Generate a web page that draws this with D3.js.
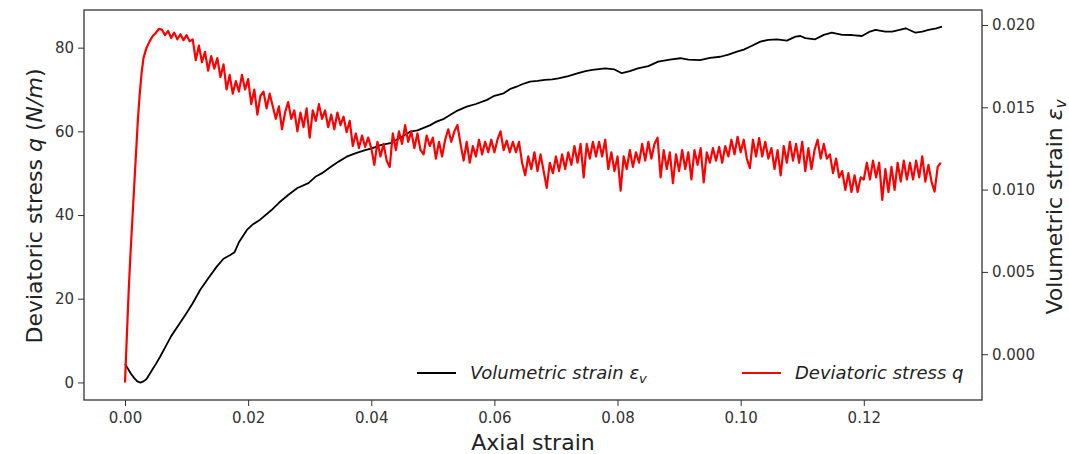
<!DOCTYPE html>
<html>
<head>
<meta charset="utf-8">
<script src="https://cdn.jsdelivr.net/npm/d3@7"></script>
<style>
  html, body { margin: 0; padding: 0; background: #fff; }
  svg { display: block; font-family: "DejaVu Sans", sans-serif; }
</style>
</head>
<body>
<svg id="chart" width="1069" height="454"></svg>
<script>
// Deviatoric stress q (N/m) against axial strain — [strain, q]
const stressCurve = [
  [0,0],[0.0003,11],[0.0006,22],[0.0009,31],[0.0012,39],[0.0015,47],[0.0018,55],[0.0021,63],
  [0.0024,69],[0.0027,74],[0.003,77.5],[0.0035,80],[0.004,81.5],[0.0045,82.8],[0.005,83.5],[0.0055,84.5],
  [0.006,84.3],[0.0065,83.0],[0.007,84.0],[0.0075,82.3],[0.008,83.6],[0.0085,82.0],[0.009,83.2],[0.0095,81.8],
  [0.010,83.0],[0.0105,81.5],[0.011,82.0],[0.0115,77.0],[0.012,80.5],[0.0125,76.5],[0.013,79.0],[0.0135,74.5],
  [0.014,78.0],[0.0145,75.0],[0.015,77.5],[0.0155,73.0],[0.016,76.0],[0.0165,70.0],[0.017,73.5],[0.0175,69.0],
  [0.018,72.0],[0.0185,69.5],[0.019,73.5],[0.0195,70.0],[0.020,72.5],[0.0205,66.5],[0.021,70.0],[0.0215,64.0],
  [0.022,68.5],[0.0225,69.5],[0.023,65.5],[0.0235,69.0],[0.024,66.0],[0.0245,63.0],[0.025,66.0],[0.0255,60.5],
  [0.026,64.5],[0.0265,67.0],[0.027,63.0],[0.0275,65.0],[0.028,60.0],[0.0285,64.5],[0.029,61.0],[0.0295,65.5],
  [0.030,58.5],[0.0305,65.0],[0.031,62.5],[0.0315,66.5],[0.032,63.0],[0.0325,65.0],[0.033,61.0],[0.0335,64.0],
  [0.034,60.5],[0.0345,64.5],[0.035,61.5],[0.0355,63.5],[0.036,59.8],[0.0365,62.5],[0.037,56.5],[0.0375,59.5],
  [0.038,56.0],[0.0385,59.0],[0.039,56.3],[0.0395,58.5],[0.040,56.0],[0.0405,52.0],[0.041,57.5],[0.0415,54.0],
  [0.042,57.0],[0.0425,53.0],[0.043,51.5],[0.0435,59.5],[0.044,55.5],[0.0445,60.0],[0.045,57.0],[0.0455,61.5],
  [0.046,57.5],[0.0465,60.0],[0.047,56.0],[0.0475,59.5],[0.048,55.5],[0.0485,54.5],[0.049,59.0],[0.0495,56.5],
  [0.050,58.5],[0.0505,53.5],[0.051,57.5],[0.0515,54.0],[0.052,58.0],[0.0525,60.5],[0.053,57.5],[0.0535,60.0],
  [0.054,61.5],[0.0545,57.0],[0.055,53.0],[0.0555,57.5],[0.056,52.5],[0.0565,56.5],[0.057,54.0],[0.0575,58.0],
  [0.058,54.5],[0.0585,57.5],[0.059,55.0],[0.0595,58.0],[0.060,55.0],[0.0605,58.0],[0.061,60.0],[0.0615,55.5],
  [0.062,57.8],[0.0625,55.0],[0.063,57.5],[0.0635,55.0],[0.064,57.5],[0.0645,52.5],[0.065,49.5],[0.0655,54.0],
  [0.066,51.0],[0.0665,55.0],[0.067,50.5],[0.0675,54.5],[0.068,50.5],[0.0685,46.5],[0.069,52.5],[0.0695,50.0],
  [0.070,54.0],[0.0705,50.5],[0.071,54.5],[0.0715,51.0],[0.072,55.0],[0.0725,52.0],[0.073,56.5],[0.0735,52.5],
  [0.074,57.0],[0.0745,49.0],[0.075,57.0],[0.0755,53.5],[0.076,57.5],[0.0765,54.0],[0.077,57.5],[0.0775,54.0],
  [0.078,58.0],[0.0785,51.0],[0.079,55.0],[0.0795,50.5],[0.080,54.0],[0.0805,45.8],[0.081,54.0],[0.0815,51.0],
  [0.082,55.5],[0.0825,51.5],[0.083,55.0],[0.0835,52.5],[0.084,57.0],[0.0845,53.0],[0.085,57.5],[0.0855,53.5],
  [0.086,57.0],[0.0865,58.5],[0.087,49.0],[0.0875,55.5],[0.088,51.0],[0.0885,55.0],[0.089,47.6],[0.0895,54.5],
  [0.090,50.5],[0.0905,55.5],[0.091,51.0],[0.0915,55.0],[0.092,48.5],[0.0925,55.5],[0.093,52.0],[0.0935,56.0],
  [0.094,47.8],[0.0945,55.0],[0.095,52.5],[0.0955,56.0],[0.096,53.0],[0.0965,56.3],[0.097,52.5],[0.0975,56.5],
  [0.098,54.0],[0.0985,58.0],[0.099,54.5],[0.0995,58.7],[0.100,55.0],[0.1005,58.0],[0.101,53.5],[0.1015,51.2],
  [0.102,58.0],[0.1025,54.0],[0.103,58.4],[0.1035,54.0],[0.104,57.5],[0.1045,53.5],[0.105,56.0],[0.1055,51.0],
  [0.106,55.5],[0.1065,49.5],[0.107,56.5],[0.1075,52.5],[0.108,57.5],[0.1085,53.0],[0.109,57.0],[0.1095,52.5],
  [0.110,57.5],[0.1105,50.5],[0.111,56.0],[0.1115,51.0],[0.112,55.5],[0.1125,58.0],[0.113,53.5],[0.1135,57.0],
  [0.114,53.5],[0.1145,54.5],[0.115,50.0],[0.1155,53.5],[0.116,49.0],[0.1165,50.5],[0.117,46.0],[0.1175,50.0],
  [0.118,45.5],[0.1185,49.5],[0.119,45.5],[0.1195,49.0],[0.120,48.5],[0.1205,52.5],[0.121,48.5],[0.1215,53.0],
  [0.122,49.0],[0.1225,52.5],[0.123,43.6],[0.1235,51.0],[0.124,45.5],[0.1245,51.5],[0.125,46.0],[0.1255,52.5],
  [0.126,48.0],[0.1265,53.0],[0.127,48.5],[0.1275,52.5],[0.128,48.5],[0.1285,53.0],[0.129,49.0],[0.1295,54.0],
  [0.130,48.0],[0.1305,52.0],[0.131,48.0],[0.1315,45.6],[0.132,51.5],[0.1325,52.5]
];

// Volumetric strain εv against axial strain — [strain, εv]
const volumetricCurve = [
  [0,-0.00059],[0.0005,-0.0009],[0.001,-0.0012],[0.0015,-0.00145],[0.002,-0.00165],[0.0025,-0.00172],
  [0.003,-0.00165],[0.0035,-0.0015],[0.004,-0.0012],[0.0045,-0.0009],[0.005,-0.0006],[0.0057,-0.00015],
  [0.0065,0.0004],[0.0075,0.0011],[0.0089,0.00188],[0.010,0.0025],[0.011,0.0031],[0.0122,0.0039],
  [0.0135,0.0046],[0.0149,0.00532],[0.016,0.0058],[0.0171,0.00603],[0.0178,0.0062],[0.0185,0.0068],
  [0.0198,0.00755],[0.0208,0.0079],[0.0219,0.00816],[0.0238,0.00876],[0.025,0.0092],[0.0265,0.00967],
  [0.028,0.0101],[0.0298,0.01039],[0.031,0.0108],[0.032,0.0110],[0.0335,0.0114],[0.0347,0.0117],
  [0.036,0.0120],[0.0374,0.0122],[0.039,0.0124],[0.0401,0.01251],[0.0415,0.0127],[0.0431,0.01282],
  [0.0445,0.0131],[0.0463,0.01352],[0.0475,0.0136],[0.0484,0.01373],[0.0495,0.0139],[0.0506,0.01413],
  [0.0518,0.0143],[0.0528,0.01453],[0.054,0.0148],[0.0555,0.01504],[0.057,0.0152],[0.0588,0.01545],
  [0.060,0.0157],[0.0615,0.01585],[0.0625,0.0161],[0.0636,0.01625],[0.0645,0.0164],[0.0658,0.01656],
  [0.067,0.0166],[0.0682,0.01666],[0.0694,0.0167],[0.0704,0.01676],[0.072,0.0169],[0.0736,0.01707],
  [0.0748,0.0172],[0.0759,0.01727],[0.078,0.01737],[0.0795,0.0173],[0.0807,0.01707],[0.082,0.0172],
  [0.0833,0.01737],[0.085,0.0175],[0.0866,0.01777],[0.0885,0.0179],[0.0902,0.01798],[0.0915,0.0179],
  [0.0934,0.01787],[0.095,0.018],[0.0967,0.01807],[0.098,0.0182],[0.0994,0.01838],[0.1005,0.0185],
  [0.1015,0.01868],[0.1032,0.01899],[0.1045,0.0191],[0.1059,0.01913],[0.1075,0.01905],[0.1089,0.01929],
  [0.1097,0.01933],[0.1105,0.0192],[0.1121,0.01913],[0.1135,0.0194],[0.1148,0.01953],[0.1165,0.0194],
  [0.1181,0.01939],[0.1197,0.01933],[0.121,0.0196],[0.1219,0.0197],[0.1235,0.0196],[0.1246,0.0196],
  [0.1258,0.0197],[0.1268,0.0198],[0.1284,0.01953],[0.1295,0.0196],[0.1305,0.0197],[0.1318,0.0198],
  [0.1327,0.0199]
];

const xTicks = [0, 0.02, 0.04, 0.06, 0.08, 0.10, 0.12];
const stressTicks = [0, 20, 40, 60, 80];
const volTicks = [0, 0.005, 0.010, 0.015, 0.020];

const svg = d3.select("#chart");
const plot = { left: 84, right: 982, top: 10, bottom: 400 };

const x = d3.scaleLinear().domain([-0.00666, 0.1392]).range([plot.left, plot.right]);
const yStress = d3.scaleLinear().domain([-4.2, 89]).range([plot.bottom, plot.top]);
const yVol = d3.scaleLinear().domain([-0.00278, 0.02091]).range([plot.bottom, plot.top]);

svg.append("defs").append("clipPath").attr("id", "plotClip")
  .append("rect").attr("x", plot.left).attr("y", plot.top)
  .attr("width", plot.right - plot.left).attr("height", plot.bottom - plot.top);

const g = svg.append("g").attr("clip-path", "url(#plotClip)");

g.append("path").datum(volumetricCurve)
  .attr("fill", "none").attr("stroke", "#000").attr("stroke-width", 1.8)
  .attr("stroke-linejoin", "round")
  .attr("d", d3.line().x(d => x(d[0])).y(d => yVol(d[1])));

g.append("path").datum(stressCurve)
  .attr("fill", "none").attr("stroke", "#ff0000").attr("stroke-width", 2.2)
  .attr("stroke-linejoin", "round")
  .attr("d", d3.line().x(d => x(d[0])).y(d => yStress(d[1])));

// Axes
const tickColor = "#333";
function styleAxis(sel) {
  sel.select(".domain").remove();
  sel.selectAll(".tick line").attr("stroke", tickColor).attr("stroke-width", 1);
  sel.selectAll(".tick text").attr("fill", "#333").style("font-size", "15px")
     .style("font-family", "'DejaVu Sans', sans-serif");
}

svg.append("g").attr("transform", `translate(0,${plot.bottom})`)
  .call(d3.axisBottom(x).tickValues(xTicks).tickFormat(d3.format(".2f")).tickSize(6).tickPadding(6))
  .call(styleAxis);

svg.append("g").attr("transform", `translate(${plot.left},0)`)
  .call(d3.axisLeft(yStress).tickValues(stressTicks).tickFormat(d3.format("d")).tickSize(6).tickPadding(4))
  .call(styleAxis);

svg.append("g").attr("transform", `translate(${plot.right},0)`)
  .call(d3.axisRight(yVol).tickValues(volTicks).tickFormat(d3.format(".3f")).tickSize(6).tickPadding(4))
  .call(styleAxis);

// Frame
svg.append("rect").attr("x", plot.left).attr("y", plot.top)
  .attr("width", plot.right - plot.left).attr("height", plot.bottom - plot.top)
  .attr("fill", "none").attr("stroke", "#333").attr("stroke-width", 1.3);

// Axis titles
svg.append("text").attr("x", (plot.left + plot.right) / 2).attr("y", 450)
  .attr("text-anchor", "middle").attr("fill", "#222").style("font-size", "22px")
  .text("Axial strain");

const lt = svg.append("text").attr("transform", "translate(42,206) rotate(-90)")
  .attr("text-anchor", "middle").attr("fill", "#222").style("font-size", "22px");
lt.append("tspan").text("Deviatoric stress ");
lt.append("tspan").attr("font-style", "italic").text("q");
lt.append("tspan").text(" (");
lt.append("tspan").attr("font-style", "italic").text("N/m");
lt.append("tspan").text(")");

const rt = svg.append("text").attr("transform", "translate(1062,207) rotate(-90)")
  .attr("text-anchor", "middle").attr("fill", "#222").style("font-size", "22px");
rt.append("tspan").text("Volumetric strain ");
rt.append("tspan").attr("font-style", "italic").text("ε");
rt.append("tspan").attr("font-style", "italic").attr("dy", 4).style("font-size", "15px").text("v");

// Legend
const legend = [
  { label: "Volumetric strain ", sym: "ε", sub: "v", color: "#000", x0: 417 },
  { label: "Deviatoric stress ", sym: "q", sub: null, color: "#ff0000", x0: 742 }
];
const ly = 373;
legend.forEach(item => {
  svg.append("line").attr("x1", item.x0).attr("x2", item.x0 + 39)
    .attr("y1", ly).attr("y2", ly).attr("stroke", item.color).attr("stroke-width", 1.8);
  const t = svg.append("text").attr("x", item.x0 + 53).attr("y", ly + 6)
    .attr("fill", "#222").style("font-size", "18px").attr("font-style", "italic");
  t.append("tspan").text(item.label);
  t.append("tspan").text(item.sym);
  if (item.sub) t.append("tspan").attr("dy", 4).style("font-size", "13px").text(item.sub);
});
</script>
</body>
</html>
